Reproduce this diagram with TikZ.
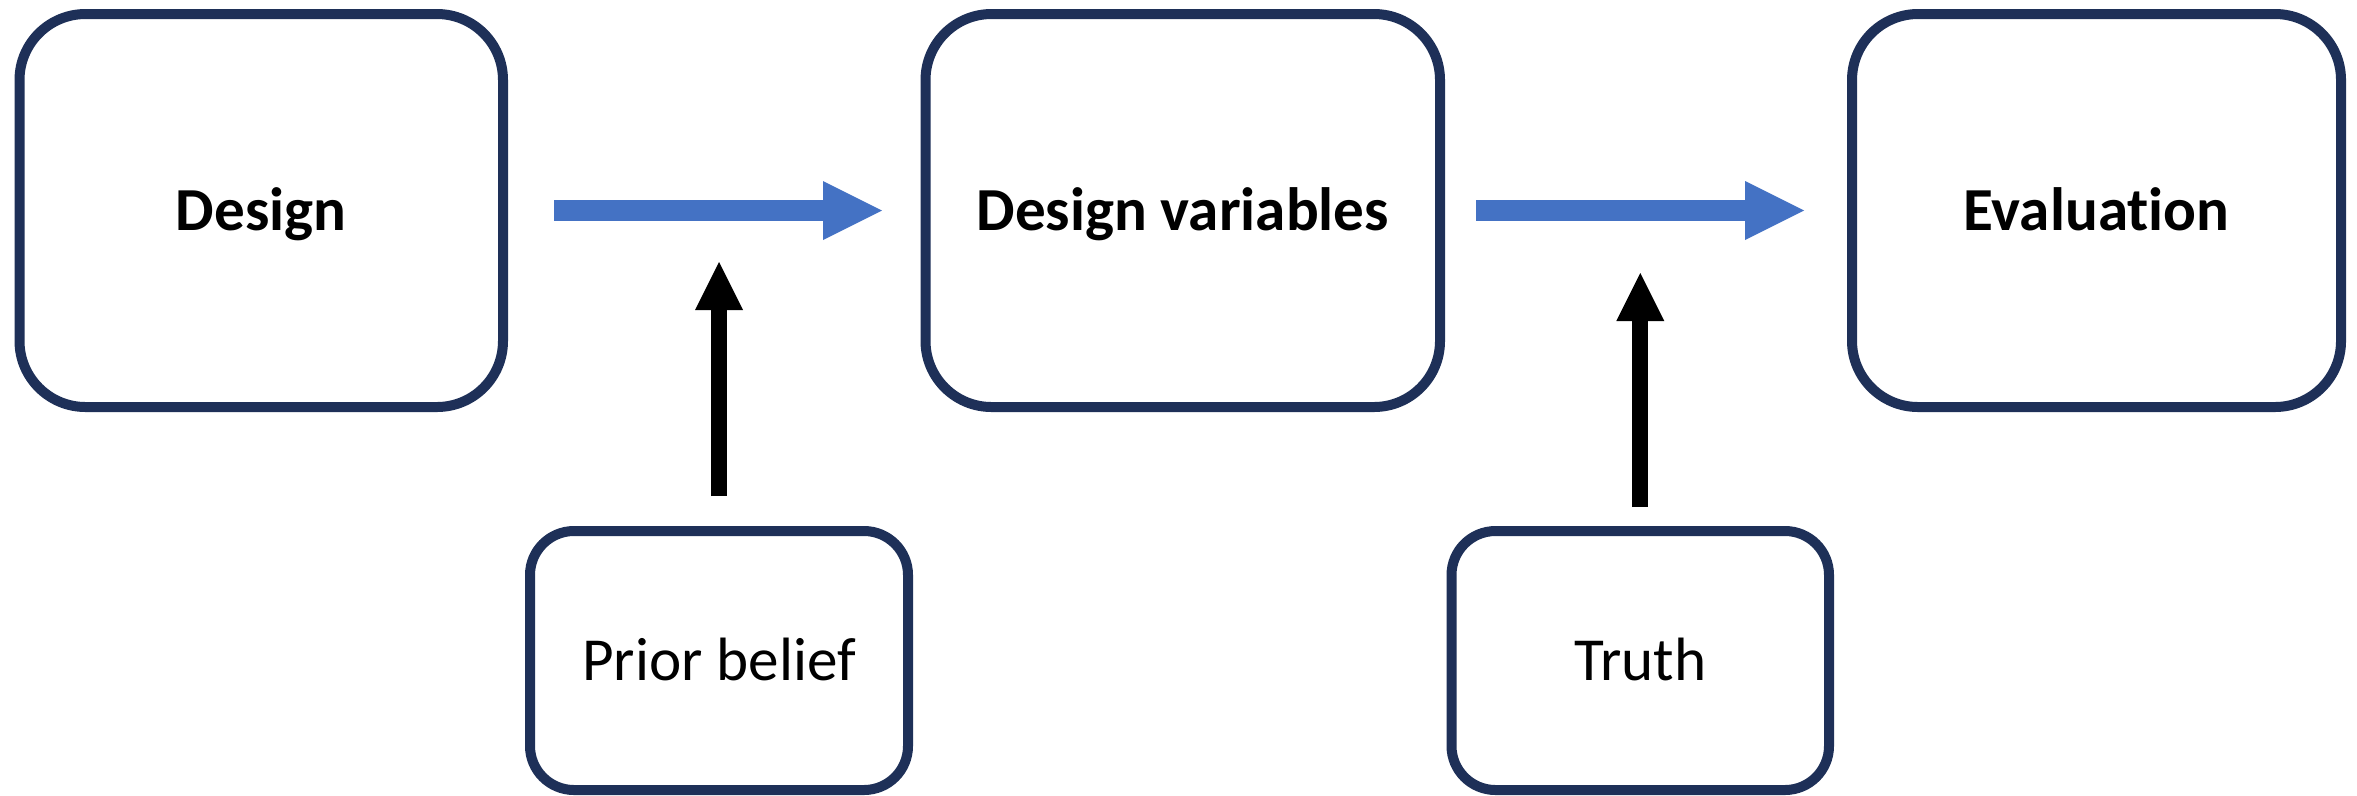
\documentclass[tikz,border=0pt]{standalone}
\usepackage{fontspec}
\setmainfont{Carlito}[Ligatures=NoCommon]
\usetikzlibrary{arrows.meta}
\definecolor{navy}{RGB}{30,48,88}
\definecolor{pptblue}{RGB}{68,114,196}
\begin{document}
\begin{tikzpicture}[x=0.1mm,y=-0.1mm,
  bigbox/.style={draw=navy, line width=1mm, rounded corners=6.6mm, minimum width=#1,
    minimum height=39.3mm, inner sep=0pt, font=\fontsize{17.4pt}{20pt}\selectfont\bfseries,
    text height=11.2pt, text depth=0pt},
  smallbox/.style={draw=navy, line width=1mm, rounded corners=4.4mm, minimum width=#1,
    minimum height=25.9mm, inner sep=0pt, font=\fontsize{17.4pt}{20pt}\selectfont,
    text height=11.2pt, text depth=0pt},
  bluearrow/.style={draw=pptblue, line width=2.1mm,
    -{Triangle[length=5.9mm, width=5.9mm, line width=0pt]}},
  blackarrow/.style={draw=black, line width=1.6mm,
    -{Triangle[length=4.8mm, width=4.8mm, line width=0pt]}}
]
\fill[white] (0,0) rectangle (2357,795);
\useasboundingbox (0,0) rectangle (2357,795);

\node[bigbox=48.35mm] (design) at (261.25,210.5) {Design};
\node[bigbox=51.45mm] (dv) at (1182.75,210.5) {Design variables};
\node[bigbox=48.9mm] (eval) at (2096.5,210.5) {Evaluation};
\node[smallbox=37.8mm] (prior) at (719,660.5) {Prior belief};
\node[smallbox=37.75mm] (truth) at (1640.25,660.5) {Truth};

\coordinate (tip1) at (719,262);
\coordinate (tip2) at (1640.25,273);

\draw[bluearrow, shorten <=4.6mm, shorten >=3.85mm] (design) -- (dv);
\draw[bluearrow, shorten <=3.1mm, shorten >=4.3mm] (dv) -- (eval);
\draw[blackarrow, shorten <=3mm] (prior) -- (tip1);
\draw[blackarrow, shorten <=1.9mm] (truth) -- (tip2);
\end{tikzpicture}
\end{document}
